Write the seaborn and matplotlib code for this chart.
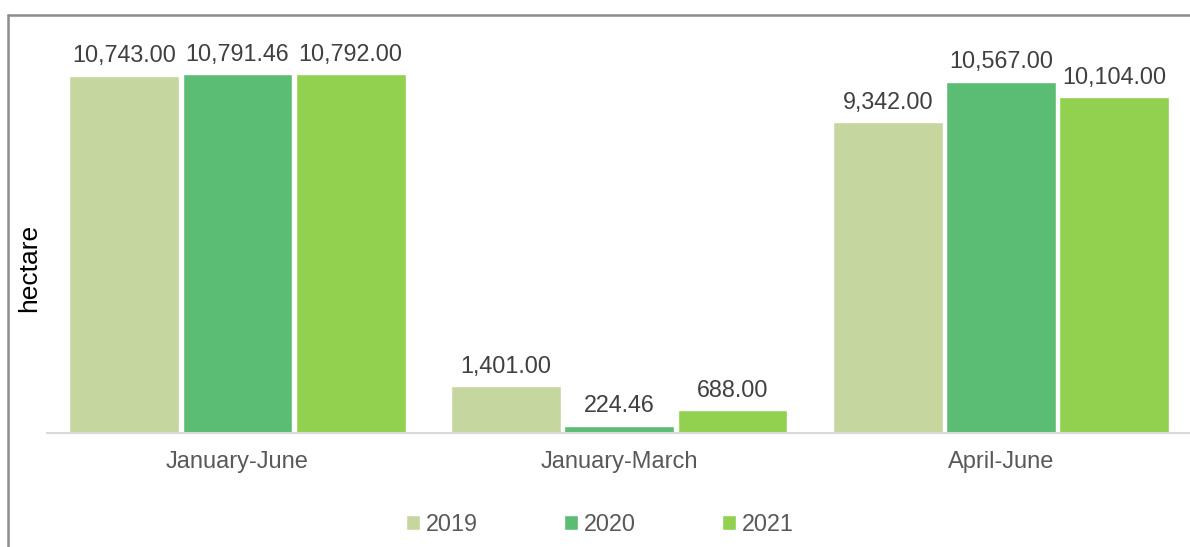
import pandas as pd
import numpy as np
import matplotlib
matplotlib.use('Agg')
import matplotlib.pyplot as plt
import seaborn as sns
from matplotlib.lines import Line2D

periods = ['January-June', 'January-March', 'April-June']
years = ['2019', '2020', '2021']
area_2019 = [10743.00, 1401.00, 9342.00]
area_2020 = [10791.46, 224.46, 10567.00]
area_2021 = [10792.00, 688.00, 10104.00]

colors = {'2019': '#C5D79E', '2020': '#5BBC73', '2021': '#92D050'}

# long form table for seaborn
rows = []
for yr, vals in zip(years, [area_2019, area_2020, area_2021]):
    for p, v in zip(periods, vals):
        rows.append({'period': p, 'year': yr, 'hectare': v})
df = pd.DataFrame(rows)

sns.set_theme(style='white')
plt.rcParams['font.family'] = ['Liberation Sans', 'DejaVu Sans']

fig = plt.figure(figsize=(11.9, 5.47), dpi=100)
ax = fig.add_axes([0.0391, 0.2084, 0.9626, 0.7294])

sns.barplot(data=df, x='period', y='hectare', hue='year', order=periods,
            hue_order=years, palette=colors, width=0.89, gap=0.03,
            saturation=1, errorbar=None, ax=ax)

for cont in ax.containers:
    ax.bar_label(cont, labels=['{:,.2f}'.format(b.get_height()) for b in cont],
                 padding=6, fontsize=16.8, color='#404040')

ax.set_xlim(-0.5, 2.5)
ax.set_ylim(0, 12000)
ax.set_yticks([])
ax.set_xlabel('')
ax.set_ylabel('')
ax.tick_params(axis='x', length=0, labelsize=17, labelcolor='#595959', pad=13)
for s in ['top', 'right', 'left']:
    ax.spines[s].set_visible(False)
ax.spines['bottom'].set_color('#D9D9D9')
ax.spines['bottom'].set_linewidth(1.5)

fig.text(29 / 1190, 1 - 268 / 547, 'hectare', rotation=90, ha='center',
         va='center', fontsize=19, color='black')

handles, labels = ax.get_legend_handles_labels()
ax.get_legend().remove()
fig.legend(handles, labels, loc='center', bbox_to_anchor=(0.504, 0.042), ncol=3,
           frameon=False, fontsize=16.8, handlelength=0.6, handleheight=0.6,
           handletextpad=0.25, columnspacing=3.7, labelcolor='#595959')

# outer frame (cropped chart border)
fig.add_artist(Line2D([8 / 1190, 1], [1 - 15 / 547, 1 - 15 / 547],
                      transform=fig.transFigure, color='#8C8C8C', lw=1.8))
fig.add_artist(Line2D([8 / 1190, 8 / 1190], [0, 1 - 15 / 547],
                      transform=fig.transFigure, color='#8C8C8C', lw=1.8))

fig.savefig('out.png', dpi=100)
